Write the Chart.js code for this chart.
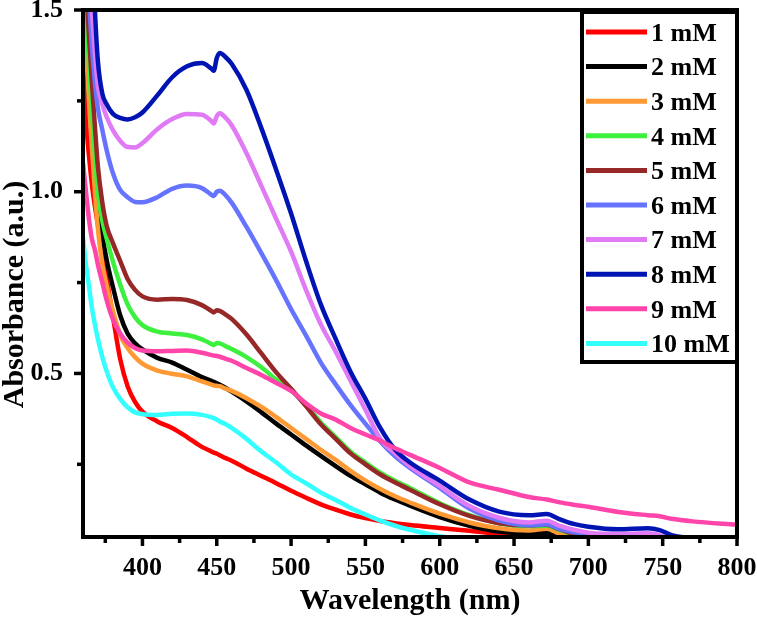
<!DOCTYPE html>
<html>
<head>
<meta charset="utf-8">
<script src="https://cdn.jsdelivr.net/npm/chart.js@4.4.1/dist/chart.umd.min.js"></script>
<style>
html,body{margin:0;padding:0;background:#fff;}
canvas{display:block;}
</style>
</head>
<body>
<canvas id="c" width="757" height="618"></canvas>
<script>
// ---- data ----
const wavelengths = [360,362,364,366,368,370,373,376,380,385,390,395,400,410,420,430,440,446,448,450,452,456,460,470,480,490,500,510,520,530,540,550,560,570,580,600,620,640,660,672,680,690,700,720,740,748,756,770,800];

const seriesLabels = ['1 mM','2 mM','3 mM','4 mM','5 mM','6 mM','7 mM','8 mM','9 mM','10 mM'];
const seriesColors = ['#ff0000','#000000','#ff9933','#3ef03e','#962828','#6673ff','#e07af5','#0014b4','#ff44aa','#33ffff'];

const abs1mM = [1.36,1.2,1.1,1.02,0.96,0.91,0.84,0.76,0.66,0.54,0.465,0.422,0.395,0.368,0.35,0.325,0.298,0.286,0.282,0.279,0.275,0.267,0.26,0.238,0.218,0.198,0.177,0.158,0.14,0.125,0.112,0.102,0.094,0.088,0.083,0.075,0.067,0.06,0.063,0.073,0.062,0.046,0.036,0.03,0.03,0.03,0.03,0.03,0.03];
const abs2mM = [1.5,1.38,1.26,1.15,1.05,0.97,0.88,0.81,0.74,0.66,0.61,0.583,0.566,0.543,0.53,0.51,0.49,0.48,0.477,0.473,0.469,0.46,0.45,0.423,0.393,0.362,0.332,0.302,0.273,0.245,0.218,0.195,0.172,0.153,0.136,0.105,0.081,0.065,0.06,0.062,0.053,0.045,0.038,0.03,0.03,0.03,0.03,0.03,0.03];
const abs3mM = [1.55,1.4,1.25,1.12,1.0,0.9,0.8,0.74,0.675,0.607,0.57,0.545,0.527,0.508,0.499,0.492,0.478,0.47,0.467,0.466,0.465,0.458,0.452,0.432,0.408,0.38,0.35,0.32,0.29,0.262,0.232,0.205,0.182,0.162,0.145,0.114,0.09,0.074,0.068,0.073,0.06,0.045,0.035,0.03,0.03,0.03,0.03,0.03,0.03];
const abs4mM = [1.62,1.5,1.35,1.22,1.1,1.0,0.92,0.87,0.81,0.745,0.69,0.655,0.633,0.615,0.61,0.606,0.594,0.582,0.578,0.584,0.583,0.575,0.567,0.545,0.517,0.483,0.453,0.413,0.365,0.325,0.285,0.255,0.227,0.205,0.185,0.143,0.11,0.088,0.08,0.081,0.07,0.057,0.045,0.035,0.03,0.03,0.03,0.03,0.03];
const abs5mM = [1.72,1.57,1.43,1.3,1.18,1.07,0.97,0.905,0.86,0.81,0.76,0.73,0.712,0.703,0.705,0.702,0.688,0.673,0.668,0.674,0.672,0.662,0.65,0.607,0.555,0.503,0.458,0.41,0.36,0.32,0.28,0.25,0.222,0.2,0.18,0.14,0.108,0.088,0.082,0.084,0.072,0.058,0.045,0.035,0.03,0.03,0.03,0.03,0.03];
const abs6mM = [1.85,1.68,1.53,1.4,1.3,1.23,1.17,1.113,1.053,1.005,0.985,0.972,0.971,0.985,1.008,1.017,1.01,0.993,0.988,1.0,1.003,0.99,0.97,0.903,0.831,0.756,0.677,0.605,0.53,0.47,0.413,0.362,0.313,0.272,0.24,0.185,0.128,0.095,0.082,0.085,0.073,0.063,0.057,0.053,0.054,0.05,0.042,0.038,0.038];
const abs7mM = [2.0,1.8,1.62,1.5,1.38,1.29,1.24,1.205,1.17,1.14,1.123,1.122,1.134,1.172,1.2,1.214,1.212,1.196,1.188,1.208,1.216,1.203,1.183,1.106,1.016,0.925,0.835,0.73,0.635,0.56,0.48,0.4,0.32,0.28,0.245,0.19,0.135,0.103,0.09,0.095,0.082,0.07,0.062,0.058,0.06,0.055,0.045,0.04,0.04];
const abs8mM = [2.3,2.1,1.9,1.7,1.5,1.36,1.27,1.24,1.215,1.203,1.199,1.205,1.218,1.265,1.315,1.345,1.354,1.34,1.333,1.368,1.382,1.37,1.352,1.28,1.175,1.06,0.94,0.81,0.69,0.595,0.505,0.43,0.35,0.29,0.255,0.205,0.153,0.12,0.11,0.113,0.1,0.086,0.078,0.071,0.074,0.069,0.055,0.048,0.047];
const abs9mM = [1.08,1.0,0.925,0.87,0.84,0.8,0.75,0.7,0.65,0.61,0.585,0.57,0.563,0.561,0.562,0.563,0.557,0.551,0.549,0.548,0.546,0.54,0.535,0.515,0.496,0.474,0.452,0.418,0.39,0.373,0.35,0.332,0.315,0.294,0.276,0.24,0.2,0.18,0.16,0.153,0.146,0.139,0.133,0.119,0.11,0.107,0.1,0.093,0.084];
const abs10mM = [0.875,0.8,0.74,0.68,0.635,0.595,0.545,0.505,0.463,0.43,0.407,0.393,0.388,0.386,0.389,0.39,0.386,0.38,0.377,0.373,0.368,0.36,0.35,0.32,0.285,0.255,0.222,0.198,0.172,0.152,0.13,0.112,0.095,0.081,0.07,0.052,0.042,0.035,0.03,0.03,0.03,0.03,0.03,0.03,0.03,0.03,0.03,0.03,0.03];

const seriesValues = [abs1mM,abs2mM,abs3mM,abs4mM,abs5mM,abs6mM,abs7mM,abs8mM,abs9mM,abs10mM];

const xTickValues = [375,400,425,450,475,500,525,550,575,600,625,650,675,700,725,750,775,800];
const xTickLabels = ['','400','','450','','500','','550','','600','','650','','700','','750','','800'];
const yTickValues = [0.25,0.5,0.75,1.0,1.25,1.5];
const yTickLabels = ['','0.5','','1.0','','1.5'];

const xTitle = 'Wavelength (nm)';
const yTitle = 'Absorbance (a.u.)';

// ---- chart ----
const FONT = '"Liberation Serif","Times New Roman",serif';

const datasets = seriesValues.map((vals, i) => ({
  label: seriesLabels[i],
  data: wavelengths.map((w, j) => ({x: w, y: vals[j]})),
  borderColor: seriesColors[i],
  backgroundColor: seriesColors[i],
  borderWidth: 4.5,
  pointRadius: 0,
  fill: false,
  cubicInterpolationMode: 'monotone',
  clip: 0,
  order: seriesValues.length - i
}));

const decorPlugin = {
  id: 'decor',
  afterDraw(chart) {
    const ctx = chart.ctx;
    const {left, right, top, bottom} = chart.chartArea;
    const xs = chart.scales.x, ys = chart.scales.y;
    ctx.save();
    ctx.strokeStyle = '#000';
    ctx.lineWidth = 3.5;
    xs.ticks.forEach((t, k) => {
      const px = xs.getPixelForValue(t.value);
      const major = xTickLabels[k] !== '';
      ctx.beginPath();
      ctx.moveTo(px, bottom);
      ctx.lineTo(px, bottom + (major ? 9 : 6));
      ctx.stroke();
    });
    ys.ticks.forEach((t, k) => {
      const py = ys.getPixelForValue(t.value);
      const major = yTickLabels[k] !== '';
      ctx.beginPath();
      ctx.moveTo(left, py);
      ctx.lineTo(left - (major ? 9 : 6), py);
      ctx.stroke();
    });
    ctx.lineWidth = 4;
    ctx.strokeRect(left, top, right - left, bottom - top);
    // y axis title
    ctx.save();
    ctx.translate(15, (top + bottom) / 2 + 21);
    ctx.rotate(-Math.PI / 2);
    ctx.font = 'bold 30px ' + FONT;
    ctx.fillStyle = '#000';
    ctx.textAlign = 'center';
    ctx.textBaseline = 'middle';
    ctx.fillText(yTitle, 0, 0);
    ctx.restore();
    // legend
    const bx = right - 155, by = top + 2, bw = 155, bh = 350;
    ctx.fillStyle = '#fff';
    ctx.fillRect(bx, by, bw, bh);
    ctx.lineWidth = 4;
    ctx.strokeRect(bx, by, bw, bh);
    ctx.font = 'bold 26px ' + FONT;
    ctx.textBaseline = 'middle';
    ctx.textAlign = 'left';
    chart.data.datasets.forEach((ds, i) => {
      const ly = top + 22 + i * 34.6;
      ctx.strokeStyle = ds.borderColor;
      ctx.lineWidth = 5;
      ctx.beginPath();
      ctx.moveTo(bx + 4, ly);
      ctx.lineTo(bx + 65, ly);
      ctx.stroke();
      ctx.fillStyle = '#000';
      ctx.fillText(ds.label, bx + 69, ly + 2);
    });
    ctx.restore();
  }
};

new Chart(document.getElementById('c'), {
  type: 'line',
  data: {datasets},
  options: {
    responsive: false,
    animation: false,
    events: [],
    layout: {padding: {left: 0, right: 20, top: 10, bottom: 0}, autoPadding: false},
    plugins: {legend: {display: false}, tooltip: {enabled: false}, title: {display: false}},
    scales: {
      x: {
        type: 'linear', min: 360, max: 800,
        afterBuildTicks: s => { s.ticks = xTickValues.map(v => ({value: v})); },
        afterFit: s => { s.height = 81; s.paddingLeft = 0; s.paddingRight = 0; s.paddingTop = 0; s.paddingBottom = 0; },
        grid: {display: false, drawTicks: false},
        border: {display: false},
        ticks: {
          autoSkip: false, maxRotation: 0, padding: 16, color: '#000',
          font: {family: FONT, size: 26, weight: 'bold'},
          callback: (v, k) => xTickLabels[k]
        },
        title: {display: true, text: xTitle, color: '#000', padding: 0,
                font: {family: FONT, size: 30, weight: 'bold', lineHeight: 1.1}}
      },
      y: {
        type: 'linear', min: 0.05, max: 1.5,
        afterBuildTicks: s => { s.ticks = yTickValues.map(v => ({value: v})); },
        afterFit: s => { s.width = 83; s.paddingLeft = 0; s.paddingRight = 0; s.paddingTop = 0; s.paddingBottom = 0; },
        grid: {display: false, drawTicks: false},
        border: {display: false},
        ticks: {
          autoSkip: false, padding: 20, color: '#000',
          font: {family: FONT, size: 26, weight: 'bold'},
          callback: (v, k) => yTickLabels[k]
        },
        title: {display: false}
      }
    }
  },
  plugins: [decorPlugin]
});
</script>
</body>
</html>
